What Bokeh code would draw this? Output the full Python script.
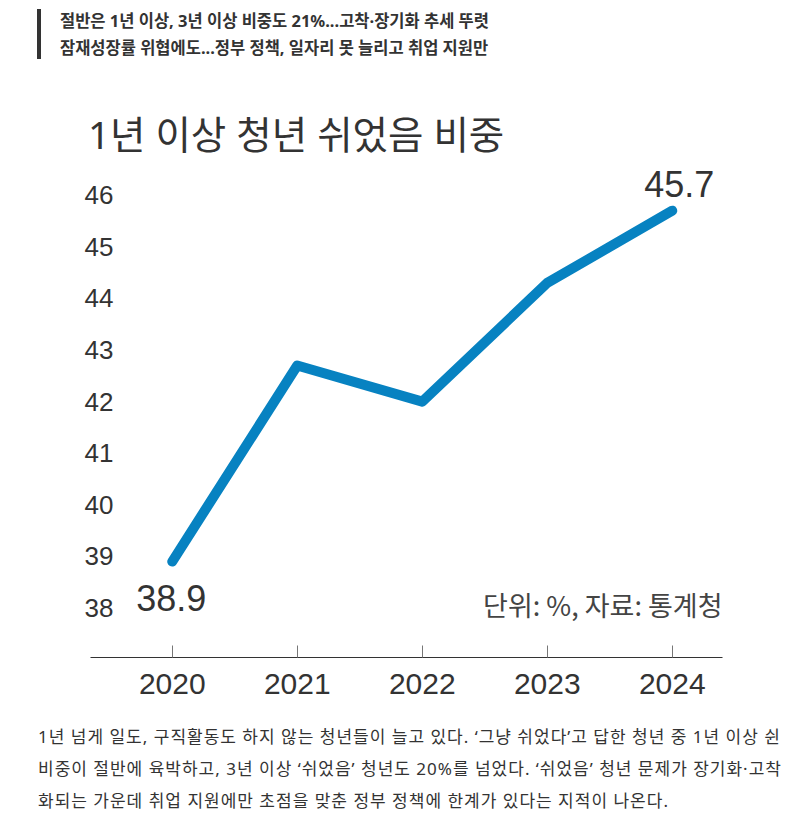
from bokeh.plotting import figure
from bokeh.layouts import column
from bokeh.models import (ColumnDataSource, Range1d, FixedTicker, Label, Div)
from bokeh.core.properties import value
from bokeh.embed import file_html
from bokeh.resources import INLINE

# ---- data ----
years = [2020, 2021, 2022, 2023, 2024]
values = [38.9, 42.7, 42.0, 44.3, 45.7]
y_ticks = [38, 39, 40, 41, 42, 43, 44, 45, 46]

headline = ["절반은 1년 이상, 3년 이상 비중도 21%...고착·장기화 추세 뚜렷",
            "잠재성장률 위협에도...정부 정책, 일자리 못 늘리고 취업 지원만"]
title_text = "1년 이상 청년 쉬었음 비중"
unit_text = "단위: %, 자료: 통계청"
paragraph = ["1년 넘게 일도, 구직활동도 하지 않는 청년들이 늘고 있다. ‘그냥 쉬었다’고 답한 청년 중 1년 이상 쉰",
             "비중이 절반에 육박하고, 3년 이상 ‘쉬었음’ 청년도 20%를 넘었다. ‘쉬었음’ 청년 문제가 장기화·고착",
             "화되는 가운데 취업 지원에만 초점을 맞춘 정부 정책에 한계가 있다는 지적이 나온다."]

KR = "Noto Sans CJK KR"
CSS_FONT = "'Noto Sans', 'Noto Sans CJK KR', sans-serif"
NUM = "Liberation Sans"
LINE_COLOR = "#0782c1"
TEXT = "#333333"
W = 776

# ---- top block: headline + title ----
head_html = "<br>".join(headline)
top_html = (
    f'<div style="position:relative;width:{W}px;height:160px;margin:0;padding:0;">'
    '<div style="position:absolute;left:37px;top:9px;width:4px;height:50px;background:#333;"></div>'
    f'<div style="position:absolute;left:60px;top:7px;font-family:{CSS_FONT};font-weight:bold;'
    f'font-size:16.5px;line-height:27px;color:{TEXT};white-space:nowrap;">{head_html}</div>'
    f'<div style="position:absolute;left:88px;top:111px;font-family:{CSS_FONT};font-weight:normal;'
    f'font-size:38.5px;line-height:46px;color:{TEXT};white-space:nowrap;">{title_text}</div>'
    '</div>'
)
top = Div(text=top_html, width=W, height=160, margin=(0, 0, 0, 0))

# ---- chart ----
p = figure(width=W, height=552, output_backend="svg", toolbar_location=None,
           x_range=Range1d(2019.346, 2024.402), y_range=Range1d(37.041, 46.576),
           min_border_left=90, min_border_right=54, min_border_top=5, min_border_bottom=55)
p.outline_line_color = None
p.background_fill_color = "white"
p.border_fill_color = "white"
p.xgrid.grid_line_color = None
p.ygrid.grid_line_color = None

xa = p.xaxis[0]
xa.ticker = FixedTicker(ticks=years)
xa.axis_line_color = "#333333"
xa.axis_line_width = 1.2
xa.major_tick_in = 12
xa.major_tick_out = 0
xa.major_tick_line_color = "#777777"
xa.minor_tick_line_color = None
xa.major_label_text_font = NUM
xa.major_label_text_font_size = "30px"
xa.major_label_text_color = TEXT
xa.major_label_standoff = 16

ya = p.yaxis[0]
ya.ticker = FixedTicker(ticks=y_ticks)
ya.axis_line_color = None
ya.major_tick_line_color = None
ya.minor_tick_line_color = None
ya.major_tick_out = 0
ya.major_tick_in = 0
ya.major_label_text_font = NUM
ya.major_label_text_font_size = "26px"
ya.major_label_text_color = TEXT
ya.major_label_standoff = -23

src = ColumnDataSource(dict(x=years, y=values))
p.line("x", "y", source=src, line_color=LINE_COLOR, line_width=10,
       line_cap="round", line_join="round")

first = ColumnDataSource(dict(x=[years[0]], y=[values[0]], t=[f"{values[0]:.1f}"]))
last = ColumnDataSource(dict(x=[years[-1]], y=[values[-1]], t=[f"{values[-1]:.1f}"]))
p.text("x", "y", text="t", source=first, text_font=value(NUM), text_font_size="36px",
       text_color=TEXT, text_align="center", text_baseline="middle", x_offset=-1, y_offset=36)
p.text("x", "y", text="t", source=last, text_font=value(NUM), text_font_size="36px",
       text_color=TEXT, text_align="center", text_baseline="middle", x_offset=7, y_offset=-27)

p.add_layout(Label(x=632, y=53, x_units="screen", y_units="screen", text=unit_text,
                   text_font=KR, text_font_size="27px", text_color="#444444",
                   text_align="right", text_baseline="middle"))

# ---- bottom block: paragraph ----
para_html = "<br>".join(paragraph)
bot_html = (
    f'<div style="position:relative;width:{W}px;height:100px;margin:0;padding:0;">'
    f'<div style="position:absolute;left:38px;top:9px;font-family:{CSS_FONT};font-size:17px;'
    f'letter-spacing:1.0px;line-height:32px;color:{TEXT};white-space:nowrap;">{para_html}</div>'
    '</div>'
)
bot = Div(text=bot_html, width=W, height=100, margin=(0, 0, 0, 0))

layout = column(top, p, bot, spacing=0)
open("out.html", "w").write(file_html(layout, INLINE))
